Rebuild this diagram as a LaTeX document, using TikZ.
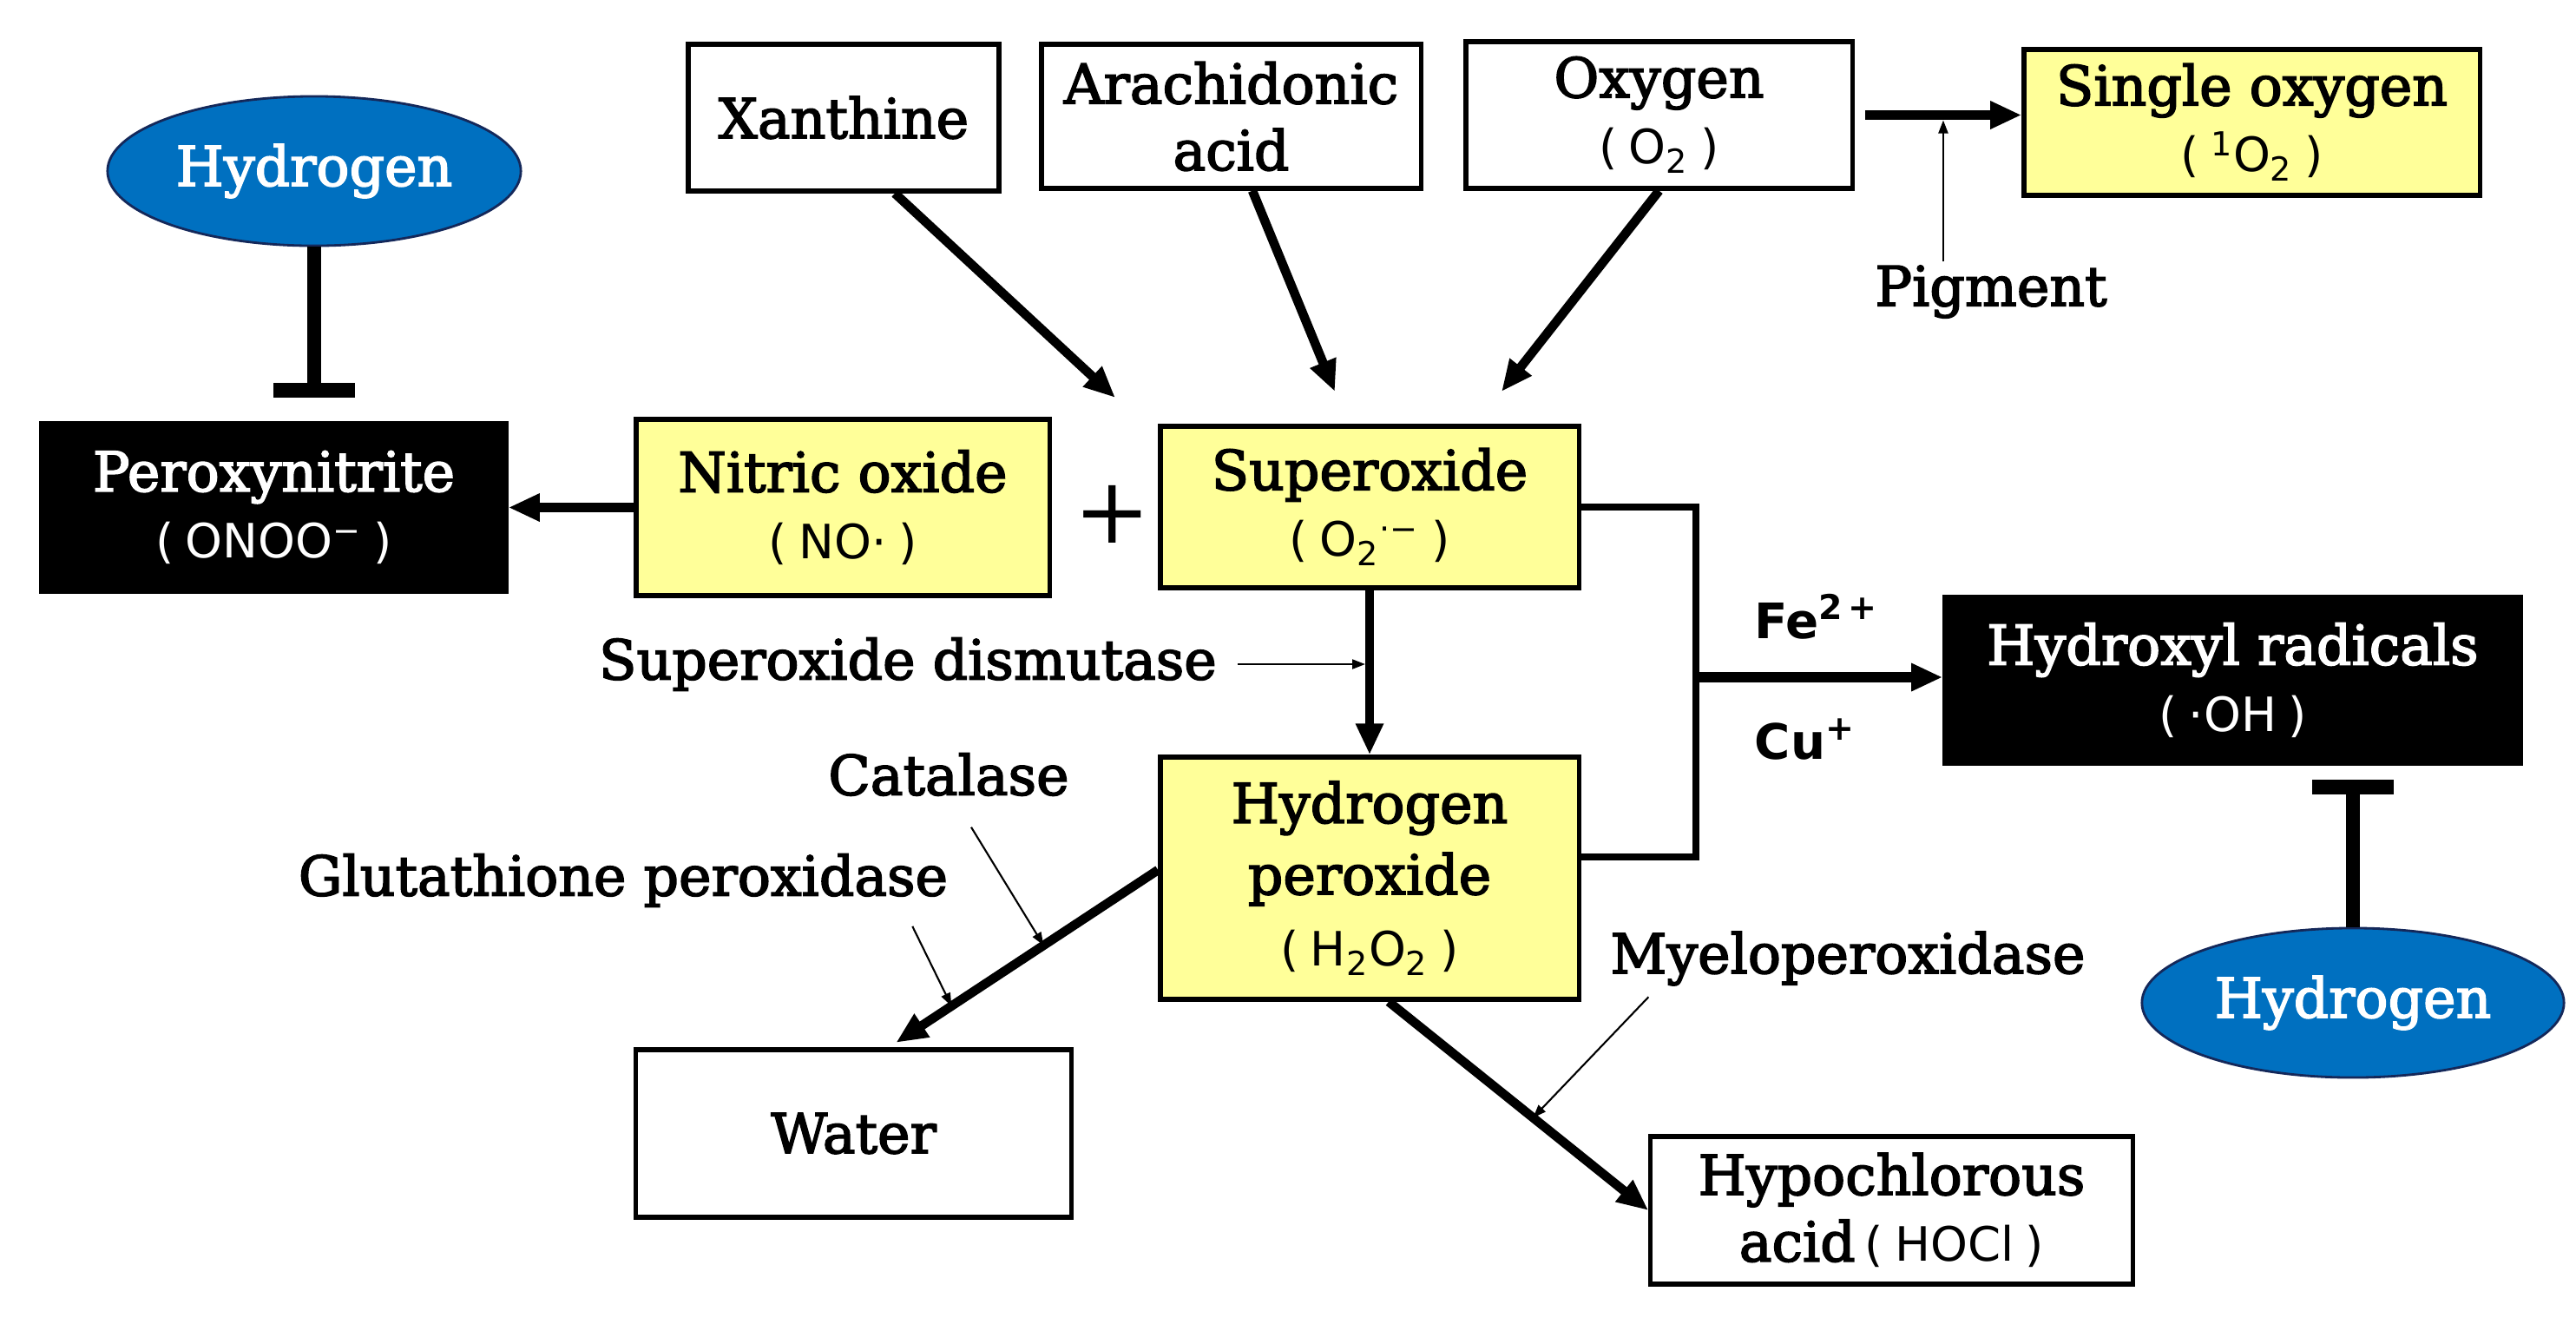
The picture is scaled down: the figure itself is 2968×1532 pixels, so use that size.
\documentclass[tikz,border=0pt]{standalone}
\usepackage{fontspec}
\setmainfont{DejaVu Serif}[BoldFont=DejaVu Serif, BoldFeatures={FakeBold=2.6}]
\newfontfamily\fsans{DejaVu Sans}
\usetikzlibrary{arrows.meta,shapes.geometric,calc}
\definecolor{hblue}{RGB}{0,112,192}
\definecolor{hnavy}{RGB}{20,40,90}
\definecolor{pyellow}{RGB}{255,255,153}
\newcommand{\serifsz}{\bfseries\fontsize{18}{21.8}\selectfont}
\newcommand{\fml}[1]{{\fsans\mdseries\fontsize{15.5}{20}\selectfont(\kern0.25em #1\kern0.25em)}}
\begin{document}
\begin{tikzpicture}[x=0.01cm,y=-0.01cm,
  box/.style={draw, line width=1.5pt, inner sep=0pt, align=center, font=\serifsz},
  wbox/.style={box, fill=white},
  ybox/.style={box, fill=pyellow},
  bbox/.style={box, fill=black, text=white},
  hell/.style={ellipse, draw=hnavy, line width=0.8pt, fill=hblue, text=white, font=\serifsz, minimum width=4.76cm, minimum height=1.72cm, inner sep=0pt},
  lbl/.style={font=\serifsz, inner sep=1pt},
  sfl/.style={font=\fsans\bfseries\fontsize{16}{18}\selectfont, inner sep=1pt},
  thk/.style={line width=3pt, -{Triangle[length=0.36cm,width=0.3cm]}},
  thn/.style={line width=0.6pt, -{Triangle[length=0.15cm,width=0.11cm]}},
  conn/.style={line width=2.4pt, line join=miter},
  inhib/.style={line width=4.5pt, -{Rectangle[length=0.17cm,width=0.94cm]}}
]
\useasboundingbox (0,0) rectangle (2968,1532);

% boxes
\node[wbox, minimum width=3.58cm, minimum height=1.69cm] (xan) at (972,135.5) {Xanthine};
\node[wbox, minimum width=4.37cm, minimum height=1.66cm] (ara) at (1418.5,134) {Arachidonic\\acid};
\node[wbox, minimum width=4.45cm, minimum height=1.69cm] (oxy) at (1911.5,132.5) {Oxygen\\\fml{O\textsubscript{2}}};
\node[ybox, minimum width=5.25cm, minimum height=1.68cm] (sing) at (2594.5,141) {Single oxygen\\\fml{\textsuperscript{1}O\textsubscript{2}}};
\node[bbox, minimum width=5.35cm, minimum height=1.93cm] (pero) at (315.5,584.5) {Peroxynitrite\\\fml{ONOO\textsuperscript{−}}};
\node[ybox, minimum width=4.76cm, minimum height=2.03cm] (nit) at (971,584.5) {Nitric oxide\\\fml{NO·}};
\node[ybox, minimum width=4.82cm, minimum height=1.86cm] (sup) at (1578,584) {Superoxide\\\fml{O\textsubscript{2}\textsuperscript{·−}}};
\node[bbox, minimum width=6.63cm, minimum height=1.91cm] (hyd) at (2572.5,783.5) {Hydroxyl radicals\\\fml{·OH}};
\node[ybox, minimum width=4.82cm, minimum height=2.79cm, font=\bfseries\fontsize{18}{23.4}\selectfont] (h2o2) at (1578,1011.5) {Hydrogen\\peroxide\\\fml{H\textsubscript{2}O\textsubscript{2}}};
\node[wbox, minimum width=5.01cm, minimum height=1.93cm] (water) at (983.5,1305.5) {Water};
\node[wbox, minimum width=5.55cm, minimum height=1.70cm] (hocl) at (2179.5,1394) {Hypochlorous\\acid\,\fml{HOCl}};

% ellipses
\node[hell] (hl) at (362,197) {Hydrogen};
\node[hell, minimum width=4.86cm] (hr) at (2711,1155) {Hydrogen};

% labels
\node[lbl] (sod) at (1046,765) {Superoxide dismutase};
\node[lbl] (cat) at (1093,892) {Catalase};
\node[lbl] (glu) at (718,1014) {Glutathione peroxidase};
\node[lbl] (myl) at (2129,1104) {Myeloperoxidase};
\node[lbl] (pig) at (2294,336) {Pigment};
\node[sfl] (fe) at (2093,710) {Fe\textsuperscript{2\,+}};
\node[sfl] (cu) at (2080,852) {Cu\textsuperscript{+}};
\node[font=\fontsize{30}{30}\selectfont, inner sep=0pt] (plus) at (1282,592) {+};

% coordinates
\coordinate (t1) at (1285,458);
\coordinate (t2) at (1538,451);
\coordinate (t3) at (1730,451);
\coordinate (jx) at (1954,780);
\coordinate (pg) at ([xshift=-0.55cm]pig.north);
\coordinate (wt) at ([xshift=0.405cm]water.north);
\coordinate (hw) at ([yshift=0.095cm]h2o2.west);
\coordinate (hs) at ([xshift=0.22cm]h2o2.south);

% arrows into superoxide
\draw[thk] ([xshift=0.59cm]xan.south) -- (t1);
\draw[thk] ([xshift=0.245cm]ara.south) -- (t2);
\draw[thk] (oxy.south) -- (t3);

% oxygen -> singlet
\draw[thk, line width=3.4pt, shorten <=0.12cm] (oxy.east) -- (oxy.east -| sing.west);
\draw[thn, shorten >=0.06cm] (pg) -- (pg |- oxy.east);

% nitric oxide -> peroxynitrite
\draw[thk, line width=3.4pt] (nit.west) -- (pero.east);

% superoxide -> H2O2
\draw[thk] (sup.south) -- (h2o2.north);
\draw[thn, shorten <=0.2cm, shorten >=0.05cm] (sod.east) -- (sod.east -| sup.south);

% Fenton bracket
\draw[conn] (sup.east) -| (jx) |- ([yshift=0.245cm]h2o2.east);
\draw[thk, line width=3.2pt] (jx) -- (jx -| hyd.west);

% H2O2 -> water
\draw[thk, shorten >=0.1cm] (hw) -- (wt);
\draw[thn] ([xshift=0.26cm,yshift=-0.32cm]cat.south) -- ($(hw)!0.425!(wt)$);
\draw[thn] ([xshift=-0.45cm,yshift=-0.18cm]glu.south east) -- ($(hw)!0.767!(wt)$);

% H2O2 -> HOCl
\draw[thk] (hs) -- (hocl.west);
\draw[thn] ([xshift=0.48cm,yshift=-0.09cm]myl.south west) -- ($(hs)!0.556!(hocl.west)$);

% inhibitions
\draw[inhib, shorten >=0.27cm] (hl.south) -- (hl.south |- pero.north);
\draw[inhib, shorten >=0.16cm] (hr.north) -- (hr.north |- hyd.south);
\end{tikzpicture}
\end{document}
